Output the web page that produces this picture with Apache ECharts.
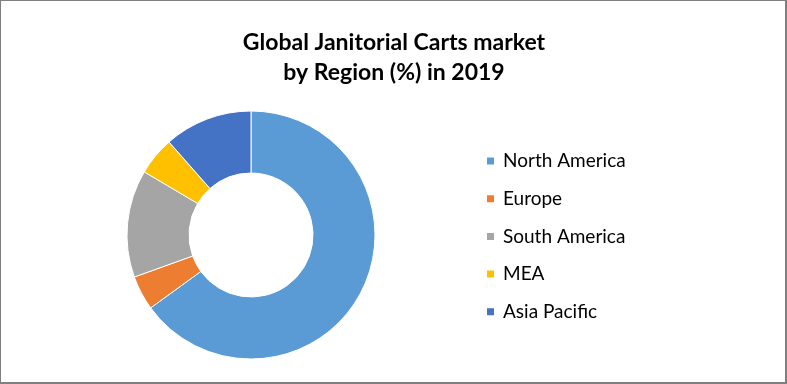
<!DOCTYPE html>
<html>
<head>
<meta charset="utf-8">
<script src="https://cdn.jsdelivr.net/npm/echarts@6/dist/echarts.min.js"></script>
<style>
html,body{margin:0;padding:0;background:#fff;}
#chart{width:787px;height:384px;box-sizing:border-box;border-top:1px solid #7f7f7f;border-left:1px solid #7f7f7f;border-right:2px solid #7f7f7f;border-bottom:2px solid #7f7f7f;}
</style>
</head>
<body>
<div id="chart"></div>
<script>
const titleLines = ['Global Janitorial Carts market', 'by Region (%) in 2019'];
const categories = ['North America', 'Europe', 'South America', 'MEA', 'Asia Pacific'];
const values = [65, 4.5, 14, 5, 11.5];
const colors = ['#5B9BD5', '#ED7D31', '#A5A5A5', '#FFC000', '#4472C4'];

const chart = echarts.init(document.getElementById('chart'), null, {renderer: 'canvas'});
chart.setOption({
  backgroundColor: '#fff',
  animation: false,
  color: colors,
  title: {
    text: titleLines.join('\n'),
    left: 393,
    top: 27,
    padding: 0,
    textAlign: 'center',
    textStyle: {fontFamily: 'Lato', fontWeight: 'bold', fontSize: 23, lineHeight: 30, color: '#000'}
  },
  legend: {
    orient: 'vertical',
    left: 484,
    top: 150,
    padding: 0,
    itemWidth: 9,
    itemHeight: 9,
    itemGap: 17.7,
    icon: 'rect',
    selectedMode: false,
    textStyle: {fontFamily: 'Lato', fontSize: 19, lineHeight: 20, color: '#000', padding: [0, 0, 0, 3]},
    data: categories
  },
  series: [{
    type: 'pie',
    center: [250, 234],
    radius: [62, 124],
    startAngle: 90,
    clockwise: true,
    label: {show: false},
    labelLine: {show: false},
    emphasis: {disabled: true},
    itemStyle: {borderColor: '#fff', borderWidth: 1},
    data: categories.map((c, i) => ({name: c, value: values[i]}))
  }]
});
</script>
</body>
</html>
